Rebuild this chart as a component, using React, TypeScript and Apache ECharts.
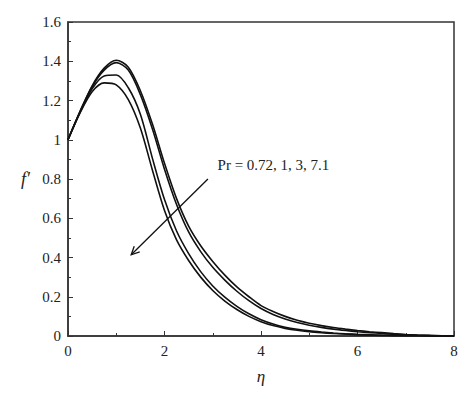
import React, { useEffect, useRef } from "react";
import * as echarts from "echarts";

const eta = [0, 0.25, 0.5, 0.75, 1.0, 1.25, 1.5, 1.75, 2.0, 2.25, 2.5, 2.75, 3.0, 3.25, 3.5, 3.75, 4.0, 4.25, 4.5, 4.75, 5.0, 5.25, 5.5, 5.75, 6.0, 6.25, 6.5, 6.75, 7.0, 7.25, 7.5, 7.75, 8.0];

const fPr072 = [1.0, 1.145, 1.275, 1.365, 1.405, 1.37, 1.25, 1.08, 0.88, 0.7, 0.56, 0.46, 0.38, 0.31, 0.25, 0.2, 0.155, 0.125, 0.1, 0.08, 0.065, 0.053, 0.043, 0.035, 0.028, 0.022, 0.017, 0.012, 0.008, 0.005, 0.003, 0.001, 0.0];
const fPr1 = [1.0, 1.143, 1.27, 1.355, 1.393, 1.355, 1.23, 1.055, 0.85, 0.67, 0.53, 0.43, 0.35, 0.285, 0.228, 0.18, 0.14, 0.11, 0.087, 0.069, 0.055, 0.044, 0.035, 0.028, 0.022, 0.017, 0.013, 0.009, 0.006, 0.004, 0.002, 0.001, 0.0];
const fPr3 = [1.0, 1.14, 1.26, 1.325, 1.33, 1.265, 1.13, 0.905, 0.695, 0.535, 0.42, 0.328, 0.255, 0.198, 0.151, 0.113, 0.083, 0.061, 0.045, 0.034, 0.026, 0.02, 0.015, 0.011, 0.008, 0.006, 0.004, 0.003, 0.002, 0.001, 0.001, 0.0, 0.0];
const fPr71 = [1.0, 1.137, 1.245, 1.29, 1.28, 1.205, 1.06, 0.845, 0.64, 0.49, 0.385, 0.3, 0.232, 0.178, 0.135, 0.1, 0.073, 0.053, 0.039, 0.029, 0.022, 0.017, 0.013, 0.01, 0.007, 0.005, 0.003, 0.002, 0.001, 0.001, 0.0, 0.0, 0.0];

const seriesNames = ["Pr = 0.72", "Pr = 1", "Pr = 3", "Pr = 7.1"];
const seriesValues = [fPr072, fPr1, fPr3, fPr71];

const annotationText = "Pr = 0.72, 1, 3, 7.1";
const arrowFrom = [2.9, 0.8];
const arrowTo = [1.31, 0.414];

const FONT = "'Liberation Serif', 'DejaVu Serif', serif";

export default function App() {
  const ref = useRef<HTMLDivElement>(null);
  useEffect(() => {
    if (!ref.current) return;
    const chart = echarts.init(ref.current, undefined, { renderer: "svg" });
    const option: any = {
      animation: false,
      backgroundColor: "#fff",
      grid: {
        left: 68,
        right: 20,
        top: 22,
        bottom: 63,
        show: true,
        borderColor: "#333",
        borderWidth: 1.5,
      },
      xAxis: {
        type: "value",
        min: 0,
        max: 8,
        interval: 2,
        name: "η",
        nameLocation: "middle",
        nameGap: 32,
        nameTextStyle: { fontFamily: FONT, fontStyle: "italic", fontSize: 17, color: "#222" },
        axisLine: { show: true, lineStyle: { color: "#333", width: 1.5 } },
        axisTick: { show: true, inside: true, length: 5, lineStyle: { color: "#333" } },
        minorTick: { show: true, splitNumber: 2, length: 3, lineStyle: { color: "#333" } },
        axisLabel: { fontFamily: FONT, fontSize: 15, color: "#222", margin: 7 },
        splitLine: { show: false },
      },
      yAxis: {
        type: "value",
        min: 0,
        max: 1.6,
        interval: 0.2,
        name: "f′",
        nameLocation: "middle",
        nameGap: 38,
        nameRotate: 0,
        nameTextStyle: { fontFamily: FONT, fontStyle: "italic", fontSize: 18, color: "#222" },
        axisLine: { show: true, lineStyle: { color: "#333", width: 1.5 } },
        axisTick: { show: true, inside: true, length: 5, lineStyle: { color: "#333" } },
        minorTick: { show: true, splitNumber: 2, length: 3, lineStyle: { color: "#333" } },
        axisLabel: { fontFamily: FONT, fontSize: 15, color: "#222", margin: 7 },
        splitLine: { show: false },
      },
      series: seriesValues.map((vals, i) => ({
        name: seriesNames[i],
        type: "line",
        data: eta.map((x, j) => [x, vals[j]]),
        smooth: 0.3,
        showSymbol: false,
        symbol: "none",
        lineStyle: { color: "#111", width: 1.6 },
      })),
    };
    chart.setOption(option);

    const p0 = chart.convertToPixel({ gridIndex: 0 }, arrowFrom) as number[];
    const p1 = chart.convertToPixel({ gridIndex: 0 }, arrowTo) as number[];
    const dx = p1[0] - p0[0];
    const dy = p1[1] - p0[1];
    const len = Math.sqrt(dx * dx + dy * dy);
    const ux = dx / len;
    const uy = dy / len;
    const head = 9;
    const ang = Math.PI / 7;
    const rot = (x: number, y: number, a: number) => [x * Math.cos(a) - y * Math.sin(a), x * Math.sin(a) + y * Math.cos(a)];
    const h1 = rot(-ux * head, -uy * head, ang);
    const h2 = rot(-ux * head, -uy * head, -ang);
    const textPos = chart.convertToPixel({ gridIndex: 0 }, [3.1, 0.87]) as number[];

    chart.setOption({
      graphic: [
        {
          type: "line",
          shape: { x1: p0[0], y1: p0[1], x2: p1[0], y2: p1[1] },
          style: { stroke: "#111", lineWidth: 1.3 },
        },
        {
          type: "polyline",
          shape: {
            points: [
              [p1[0] + h1[0], p1[1] + h1[1]],
              [p1[0], p1[1]],
              [p1[0] + h2[0], p1[1] + h2[1]],
            ],
          },
          style: { stroke: "#111", lineWidth: 1.3, fill: "none" },
        },
        {
          type: "text",
          x: textPos[0],
          y: textPos[1],
          style: {
            text: annotationText,
            fontFamily: FONT,
            fontSize: 15,
            fill: "#222",
            textAlign: "left",
            textVerticalAlign: "middle",
          },
        },
      ],
    });

    return () => chart.dispose();
  }, []);
  return <div ref={ref} style={{ width: 474, height: 399, margin: -8 }} />;
}
